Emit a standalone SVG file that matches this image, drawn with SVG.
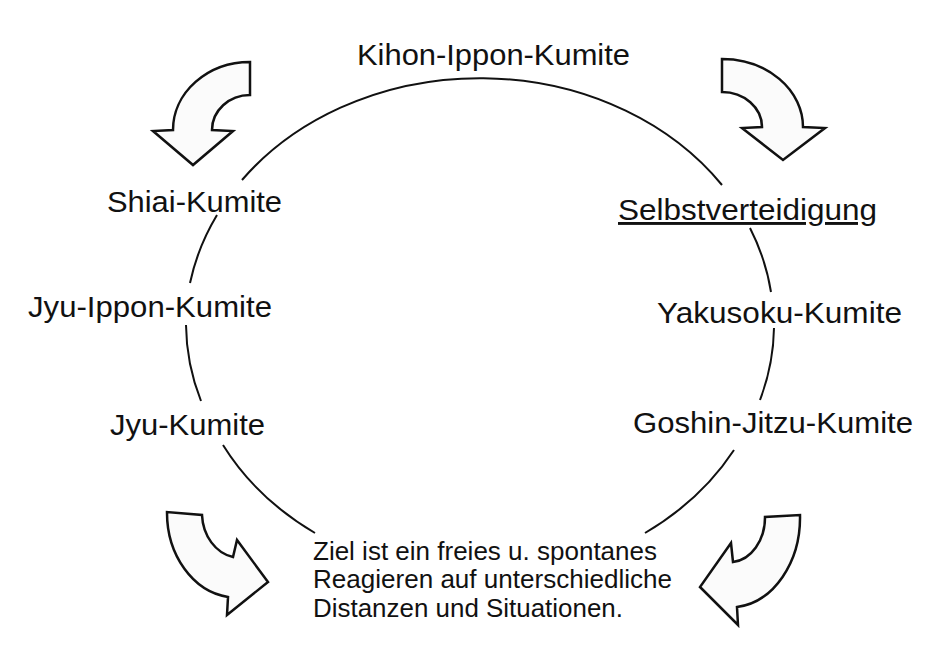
<svg xmlns="http://www.w3.org/2000/svg" width="943" height="648" viewBox="0 0 943 648">
<style>
.lbl{font-family:"Liberation Sans",Arial,sans-serif;font-size:29px;fill:#111;}
.note{font-family:"Liberation Sans",Arial,sans-serif;font-size:25px;fill:#111;}
.arc{fill:none;stroke:#111;stroke-width:2;}
.blk{fill:#fbfbfb;stroke:#111;stroke-width:2.5;stroke-linejoin:miter;}
</style>
<rect width="943" height="648" fill="#ffffff"/>
<g id="connectors">
<path class="arc" d="M242,180 A294,247 0 0 1 722,185"/>
<path class="arc" d="M217,215 A294,247 0 0 0 190,283"/>
<path class="arc" d="M186,325 A294,247 0 0 0 201,401"/>
<path class="arc" d="M223,445 A294,247 0 0 0 315,533"/>
<path class="arc" d="M750,228 A294,247 0 0 1 771,292"/>
<path class="arc" d="M774,328 A294,247 0 0 1 760,400"/>
<path class="arc" d="M734,450 A294,247 0 0 1 645,533"/>
</g>
<g id="arrows">
<path id="arrow-top-left" class="blk" d="M250,62 A77,68 0 0 0 173,130 L153,131 L193,165 L233,131 L212,130 A38,35 0 0 1 250,95 Z"/>
<path id="arrow-top-right" class="blk" d="M722,59 A81,68 0 0 1 803,127 L825,128 L783,160 L742,128 L762,127 A40,35 0 0 0 722,92 Z"/>
<path id="arrow-bottom-left" class="blk" d="M167,512 A70,85 0 0 0 228,597 L227,615 L268,582 L237,540 L233,557 A38,45 0 0 1 202,515 Z"/>
<path id="arrow-bottom-right" class="blk" d="M800,515 A70,90 0 0 1 737,607 L738,625 L700,587 L731,543 L733,562 A35,45 0 0 0 765,517 Z"/>
</g>
<g id="node-kihon"><text class="lbl" x="357" y="65" textLength="273" lengthAdjust="spacingAndGlyphs">Kihon-Ippon-Kumite</text></g>
<g id="node-shiai"><text class="lbl" x="107" y="212" textLength="175" lengthAdjust="spacingAndGlyphs">Shiai-Kumite</text></g>
<g id="node-jyu-ippon"><text class="lbl" x="28" y="317" textLength="244" lengthAdjust="spacingAndGlyphs">Jyu-Ippon-Kumite</text></g>
<g id="node-jyu"><text class="lbl" x="110" y="435" textLength="155" lengthAdjust="spacingAndGlyphs">Jyu-Kumite</text></g>
<g id="node-selbst"><text class="lbl" x="618" y="220" textLength="259" lengthAdjust="spacingAndGlyphs" text-decoration="underline">Selbstverteidigung</text></g>
<g id="node-yakusoku"><text class="lbl" x="657" y="323" textLength="245" lengthAdjust="spacingAndGlyphs">Yakusoku-Kumite</text></g>
<g id="node-goshin"><text class="lbl" x="633" y="433" textLength="280" lengthAdjust="spacingAndGlyphs">Goshin-Jitzu-Kumite</text></g>
<g id="node-ziel">
<text class="note" x="313" y="560" textLength="344" lengthAdjust="spacingAndGlyphs">Ziel ist ein freies u. spontanes</text>
<text class="note" x="313" y="588" textLength="359" lengthAdjust="spacingAndGlyphs">Reagieren auf unterschiedliche</text>
<text class="note" x="313" y="617" textLength="310" lengthAdjust="spacingAndGlyphs">Distanzen und Situationen.</text>
</g>
</svg>
